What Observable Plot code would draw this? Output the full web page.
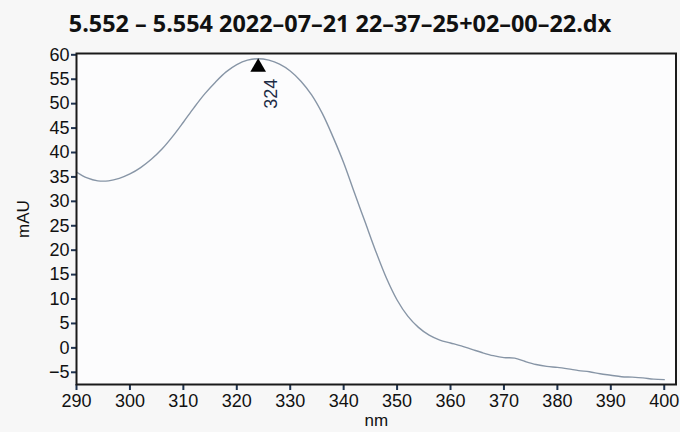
<!DOCTYPE html>
<html>
<head>
<meta charset="utf-8">
<script src="https://cdn.jsdelivr.net/npm/d3@7"></script>
<script src="https://cdn.jsdelivr.net/npm/@observablehq/plot@0.6"></script>
<style>
  html, body { margin: 0; padding: 0; background: #f7f7f7; }
  #wrap { width: 680px; height: 432px; overflow: hidden; }
  #title { height: 46px; box-sizing: border-box; padding-top: 9px; text-align: center;
    font-family: "Open Sans", Lato, sans-serif; font-weight: 700; font-size: 23.4px; line-height: 28px;
    color: #111; }
</style>
</head>
<body>
<div id="wrap">
  <div id="title"></div>
  <div id="chart"></div>
</div>
<script>
const titleText = "5.552 – 5.554 2022–07–21 22–37–25+02–00–22.dx";
const xLabel = ["nm"];
const yLabel = ["mAU"];

const wavelengths = [290, 292, 294, 296, 298, 300, 302, 304, 306, 308, 310, 312, 314, 316, 318, 320,
  322, 324, 326, 328, 330, 332, 334, 336, 338, 340, 342, 344, 346, 348, 350, 352, 354, 356, 358, 360,
  362, 364, 366, 368, 370, 372, 374, 376, 378, 380, 382, 384, 386, 388, 390, 392, 394, 396, 398, 400];
const absorbance = [36.0, 34.8, 34.2, 34.2, 34.7, 35.6, 36.9, 38.6, 40.7, 43.3, 46.2, 49.2, 52.0, 54.4, 56.5, 58.0,
  58.9, 59.2, 58.9, 58.1, 56.7, 54.6, 51.8, 48.0, 43.2, 37.9, 31.8, 25.8, 19.8, 14.3, 9.8, 6.5, 4.2, 2.6, 1.6, 1.0,
  0.4, -0.3, -1.0, -1.6, -2.0, -2.1, -2.8, -3.4, -3.8, -4.0, -4.3, -4.65, -4.9, -5.3, -5.6, -5.9, -6.0, -6.15, -6.4, -6.5];

const peakNm = [324];
const peakValue = [59.2];
const peakLabel = ["324"];

const xTicks = [290, 300, 310, 320, 330, 340, 350, 360, 370, 380, 390, 400];
const yTicks = [-5, 0, 5, 10, 15, 20, 25, 30, 35, 40, 45, 50, 55, 60];

const data = wavelengths.map((x, i) => ({x, y: absorbance[i]}));
const peaks = peakNm.map((x, i) => ({x, y: peakValue[i], label: peakLabel[i]}));

document.getElementById("title").textContent = titleText;

const chart = Plot.plot({
  width: 680,
  height: 386,
  marginLeft: 76,
  marginRight: 4.5,
  marginTop: 7,
  marginBottom: 48,
  style: {background: "transparent", fontFamily: "'Liberation Sans', Arial, sans-serif", fontSize: "18px", color: "#111"},
  x: {domain: [290, 402.2]},
  y: {domain: [-7.5, 60.27]},
  marks: [
    Plot.frame({fill: "#fcfcfd", stroke: null}),
    Plot.line(data, {x: "x", y: "y", stroke: "#8795a6", strokeWidth: 1.4, curve: "catmull-rom"}),
    Plot.dot(peaks, {x: "x", y: "y", symbol: "triangle", r: 5.8, fill: "#000", dy: 8.5}),
    Plot.text(peaks, {x: "x", y: "y", text: "label", rotate: -90, dx: 13, dy: 35, fontSize: 18, fill: "#1d2b44", textAnchor: "middle"}),
    Plot.axisX({ticks: xTicks, tickSize: 6, tickPadding: 4, stroke: "#1f3350", strokeWidth: 2,
      label: null, fontSize: 18, fill: "#111"}),
    Plot.axisY({ticks: yTicks, tickSize: 5, tickPadding: 2, stroke: "#1f3350", strokeWidth: 2,
      label: null, fontSize: 18, fill: "#111", tickFormat: d => d < 0 ? "−" + Math.abs(d) : String(d)}),
    Plot.text(xLabel, {frameAnchor: "bottom", dy: 29, fontSize: 17, fill: "#111", lineAnchor: "top"}),
    Plot.text(yLabel, {frameAnchor: "left", dx: -53, rotate: -90, fontSize: 17, fill: "#111", textAnchor: "middle"}),
    Plot.frame({stroke: "#1a1a1a", strokeWidth: 2})
  ]
});
document.getElementById("chart").appendChild(chart);
</script>
</body>
</html>
